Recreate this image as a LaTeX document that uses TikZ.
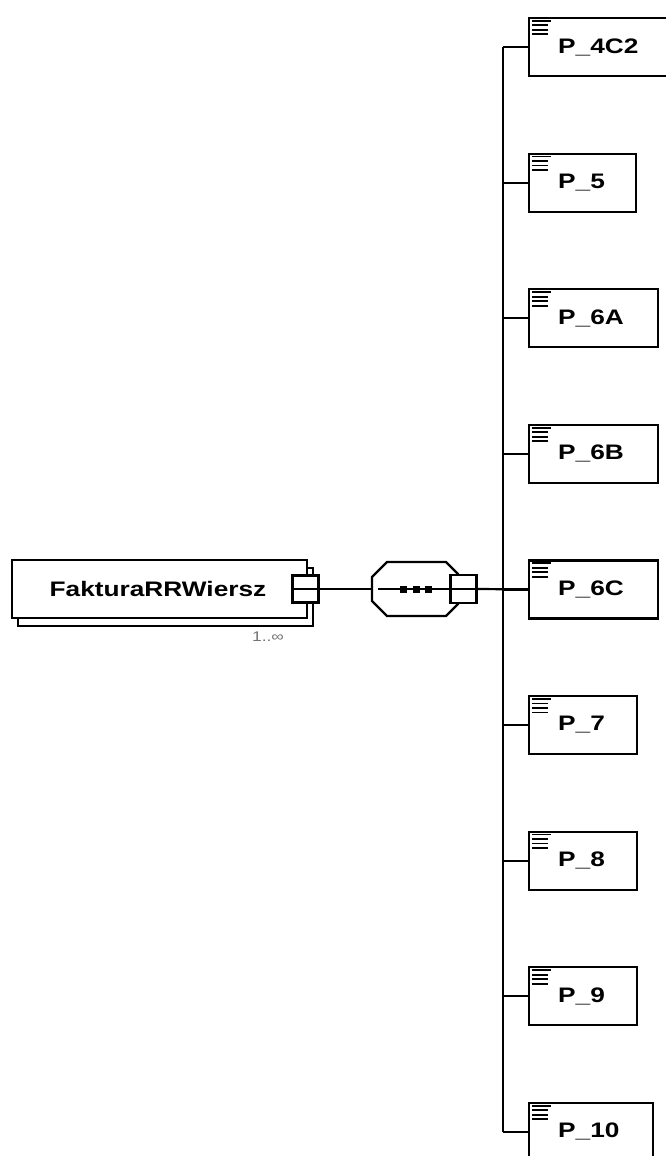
\documentclass[tikz,border=0pt]{standalone}
\usepackage{fontspec}
\newfontfamily\elemfont[FakeStretch=1.25]{Liberation Sans}

\tikzset{
  wire/.style={line width=2.2pt},
  elembox/.style={draw, line width=2.2pt, fill=white, rectangle, minimum height=58pt, inner sep=0pt},
  elemlabel/.style={font=\elemfont\bfseries\fontsize{21pt}{24pt}\selectfont, inner sep=0pt, anchor=west},
  minusbox/.style={draw, line width=2.2pt, fill=white, rectangle, minimum width=26pt, minimum height=27pt, inner sep=0pt},
  dotsq/.style={fill=black, minimum size=7pt, inner sep=0pt}
}

\begin{document}
\begin{tikzpicture}[x=1pt, y=-1pt]
				\fill[white] (0,0) rectangle (666,1156);
				\useasboundingbox (0,0) rectangle (666,1156);
				
				% main element with its shadow copy
				\node[elembox, minimum width=295pt] (mainback) at (165.5,597) {};
				\node[elembox, minimum width=295pt] (main) at (159.5,589) {};
				\node[font=\elemfont\bfseries\fontsize{21pt}{24pt}\selectfont, inner sep=0pt] (mainlabel) at (158,589) {FakturaRRWiersz};
				\node[minusbox] (mainmin) at (305.5,589) {};
				\draw[wire] ([xshift=3pt]mainmin.west) -- ([xshift=-3pt]mainmin.east);
				\node[font=\elemfont\fontsize{14pt}{16pt}\selectfont, text=black!55, inner sep=0pt] (occurs) at (268,637) {1..∞};
				
				% sequence compositor
				\node[minimum width=86pt, minimum height=54pt, inner sep=0pt] (seq) at (415,589) {};
				\filldraw[fill=white, line width=2.2pt] (387,562) -- (446,562) -- (458,574) -- (458,604) -- (446,616) -- (387,616) -- (372,601) -- (372,577) -- cycle;
				\node[minusbox, minimum height=28pt] (seqmin) at (463.5,589) {};
				\draw[wire] ([xshift=3pt]seqmin.west) -- ([xshift=-3pt]seqmin.east);
				\draw[line width=1.6pt] ([xshift=6pt]seq.west) -- (seqmin.west);
				\node[dotsq] (dot1) at (403.5,589) {};
				\node[dotsq] (dot2) at (416,589) {};
				\node[dotsq] (dot3) at (428.5,589) {};
				
				\draw[wire] (mainmin.east) -- (seq.west);
				
				% child elements
				\coordinate (trunk) at (503,0);
				\foreach \name/\txt/\w [count=\i from 0] in {p4c2/P\_4C2/144, p5/P\_5/107, p6a/P\_6A/129, p6b/P\_6B/129, p6c/P\_6C/129, p7/P\_7/108, p8/P\_8/108, p9/P\_9/108, p10/P\_10/124}{
					\node[elembox, minimum width=\w pt, anchor=west] (\name) at (528,{47+135.6*\i}) {};
					\node[elemlabel] (\name label) at ([xshift=30pt]\name.west) {\txt};
					\draw[line width=1.8pt] ([shift={(4pt,-4pt)}]\name.north west) -- ++(19pt,0);
					\foreach \k in {1,2,3}
						\draw[line width=1.8pt] ([shift={(4pt,{-4pt-4.5pt*\k})}]\name.north west) -- ++(16pt,0);
					\draw[wire] (\name.west) -- (\name.west -| trunk);
				}
				\draw[wire] (p4c2.west -| trunk) -- (p10.west -| trunk);
				\draw[wire] (seqmin.east) -- (p6c.west);
\end{tikzpicture}
\end{document}
